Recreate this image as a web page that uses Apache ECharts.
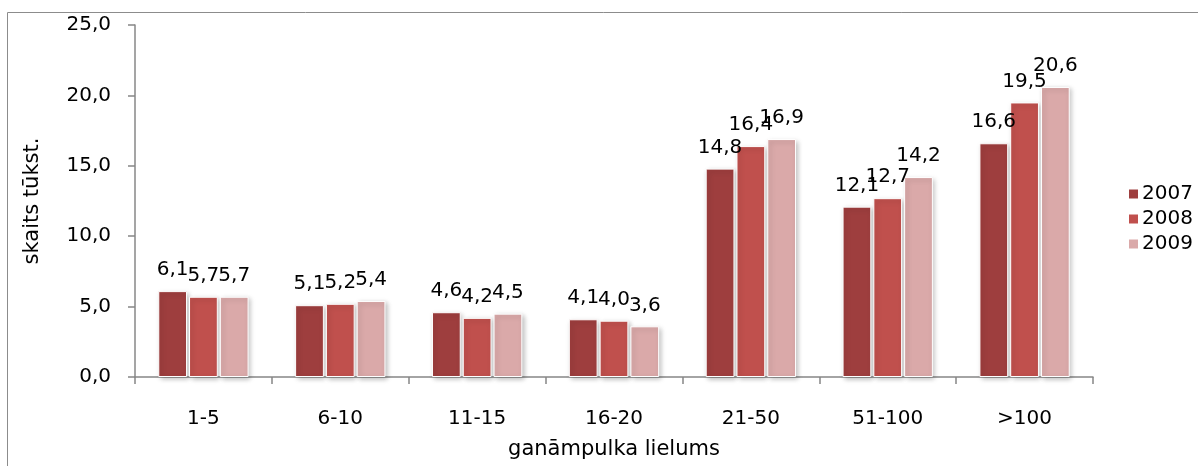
<!DOCTYPE html>
<html>
<head>
<meta charset="utf-8">
<script src="https://cdn.jsdelivr.net/npm/echarts@6/dist/echarts.min.js"></script>
<style>
html,body{margin:0;padding:0;background:#fff;}
#chart{width:1198px;height:466px;}
</style>
</head>
<body>
<div id="chart"></div>
<script>
const categories = ['1-5', '6-10', '11-15', '16-20', '21-50', '51-100', '>100'];
const seriesNames = ['2007', '2008', '2009'];
const values2007 = [6.1, 5.1, 4.6, 4.1, 14.8, 12.1, 16.6];
const values2008 = [5.7, 5.2, 4.2, 4.0, 16.4, 12.7, 19.5];
const values2009 = [5.7, 5.4, 4.5, 3.6, 16.9, 14.2, 20.6];
const yTicks = [0, 5, 10, 15, 20, 25];

const colors = ['#9E3E3E', '#C0504D', '#DAA9A9'];
const font = 'DejaVu Sans';
const allValues = [values2007, values2008, values2009];

const chart = echarts.init(document.getElementById('chart'), null, {renderer: 'canvas'});

const series = seriesNames.map((name, i) => ({
  name: name,
  type: 'bar',
  data: allValues[i],
  barGap: '7%',
  barCategoryGap: '34%',
  itemStyle: {
    color: colors[i],
    borderColor: '#ffffff',
    borderWidth: 1,
    shadowColor: 'rgba(0,0,0,0.25)',
    shadowBlur: 5,
    shadowOffsetX: 2,
    shadowOffsetY: 2
  },
  label: {
    show: true,
    position: 'top',
    distance: 11,
    fontFamily: font,
    fontSize: 20,
    color: '#000',
    formatter: p => p.value.toFixed(1).replace('.', ',')
  }
}));

chart.setOption({
  animation: false,
  color: colors,
  graphic: [{
    type: 'rect',
    shape: {x: 7.5, y: 12.5, width: 1300, height: 600},
    style: {fill: 'none', stroke: '#8c8c8c', lineWidth: 1},
    silent: true,
    z: -10
  }],
  grid: {left: 135, right: 105, top: 25, bottom: 89, containLabel: false},
  legend: {
    orient: 'vertical',
    left: 1122,
    top: 179,
    itemWidth: 11,
    itemHeight: 11,
    itemGap: 5,
    icon: 'rect',
    data: seriesNames,
    textStyle: {fontFamily: font, fontSize: 20, color: '#000', padding: [0, 0, 0, -2]}
  },
  xAxis: {
    type: 'category',
    data: categories,
    name: 'ganāmpulka lielums',
    nameLocation: 'middle',
    nameGap: 62,
    nameTextStyle: {fontFamily: font, fontSize: 21, color: '#000'},
    axisLine: {lineStyle: {color: '#878787', width: 1.5}},
    axisTick: {show: true, length: 7, lineStyle: {color: '#878787', width: 1.5}},
    axisLabel: {fontFamily: font, fontSize: 20, color: '#000', margin: 32}
  },
  yAxis: {
    type: 'value',
    min: 0,
    max: 25,
    interval: 5,
    name: 'skaits tūkst.',
    nameLocation: 'middle',
    nameGap: 92,
    nameTextStyle: {fontFamily: font, fontSize: 21, color: '#000'},
    splitLine: {show: false},
    axisLine: {show: true, lineStyle: {color: '#878787', width: 1.5}},
    axisTick: {show: true, length: 7, lineStyle: {color: '#878787', width: 1.5}},
    axisLabel: {
      fontFamily: font, fontSize: 20, color: '#000', margin: 24,
      formatter: v => yTicks.includes(v) ? v.toFixed(1).replace('.', ',') : ''
    }
  },
  series: series
});
</script>
</body>
</html>
